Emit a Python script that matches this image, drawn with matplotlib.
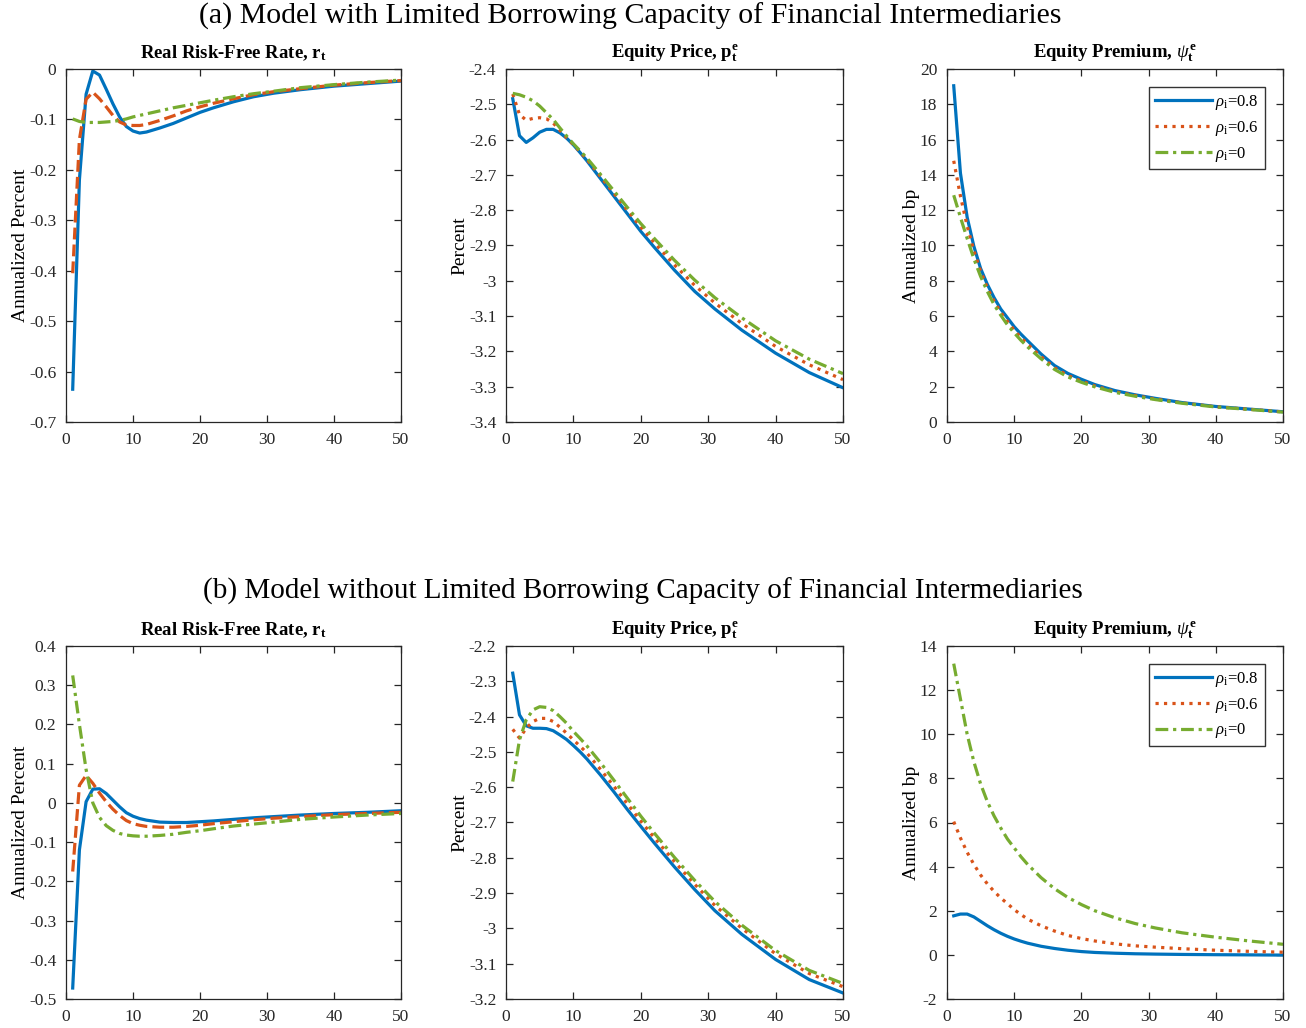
import matplotlib
matplotlib.use('Agg')
import matplotlib.pyplot as plt

plt.rcParams['font.family'] = ['Liberation Serif', 'DejaVu Serif']
plt.rcParams['mathtext.fontset'] = 'custom'
plt.rcParams['mathtext.rm'] = 'Liberation Serif'
plt.rcParams['mathtext.it'] = 'Liberation Serif:italic'
plt.rcParams['mathtext.bf'] = 'Liberation Serif:bold'

# horizon (quarters) where values were read
t = [1, 2, 3, 4, 5, 6, 7, 8, 9, 10, 11, 12, 14, 16, 18, 20, 22, 25, 28, 31, 35, 40, 45, 50]

labels = [r'$\rho_\mathrm{i}$=0.8', r'$\rho_\mathrm{i}$=0.6', r'$\rho_\mathrm{i}$=0']

# (a) with limited borrowing capacity
a_rate_08 = [-0.635, -0.22, -0.05, -0.004, -0.012, -0.04, -0.069, -0.095, -0.114, -0.123, -0.127, -0.125,
             -0.117, -0.108, -0.097, -0.086, -0.077, -0.065, -0.055, -0.048, -0.041, -0.034, -0.029, -0.024]
a_rate_06 = [-0.405, -0.14, -0.06, -0.046, -0.059, -0.075, -0.092, -0.105, -0.111, -0.112, -0.112, -0.11,
             -0.102, -0.093, -0.083, -0.075, -0.068, -0.059, -0.051, -0.045, -0.039, -0.032, -0.027, -0.023]
a_rate_0 = [-0.099, -0.104, -0.106, -0.106, -0.106, -0.105, -0.104, -0.102, -0.099, -0.095, -0.092, -0.089,
            -0.083, -0.077, -0.072, -0.067, -0.062, -0.055, -0.049, -0.044, -0.037, -0.031, -0.026, -0.022]

a_price_08 = [-2.484, -2.589, -2.608, -2.595, -2.579, -2.571, -2.571, -2.581, -2.596, -2.615, -2.637, -2.66,
              -2.71, -2.76, -2.81, -2.86, -2.905, -2.97, -3.03, -3.08, -3.14, -3.205, -3.26, -3.303]
a_price_06 = [-2.471, -2.529, -2.545, -2.54, -2.538, -2.541, -2.553, -2.574, -2.595, -2.614, -2.635, -2.656,
              -2.704, -2.752, -2.8, -2.848, -2.892, -2.955, -3.013, -3.063, -3.121, -3.186, -3.238, -3.28]
a_price_0 = [-2.469, -2.473, -2.48, -2.49, -2.505, -2.524, -2.543, -2.567, -2.59, -2.612, -2.632, -2.652,
             -2.698, -2.745, -2.792, -2.838, -2.88, -2.942, -2.998, -3.048, -3.105, -3.17, -3.222, -3.263]

a_prem_08 = [19.05, 14.1, 11.6, 9.95, 8.7, 7.8, 7.05, 6.4, 5.9, 5.4, 4.98, 4.6,
             3.85, 3.2, 2.75, 2.42, 2.12, 1.78, 1.54, 1.34, 1.1, 0.88, 0.73, 0.58]
a_prem_06 = [14.8, 12.8, 11.1, 9.7, 8.55, 7.6, 6.85, 6.2, 5.7, 5.2, 4.78, 4.4,
             3.7, 3.07, 2.63, 2.32, 2.04, 1.72, 1.5, 1.3, 1.08, 0.86, 0.72, 0.57]
a_prem_0 = [12.85, 11.6, 10.4, 9.25, 8.25, 7.4, 6.65, 6.05, 5.5, 5.05, 4.63, 4.25,
            3.58, 2.98, 2.55, 2.25, 1.99, 1.68, 1.46, 1.27, 1.06, 0.85, 0.71, 0.56]

# (b) without limited borrowing capacity
b_rate_08 = [-0.472, -0.12, 0.003, 0.035, 0.036, 0.024, 0.007, -0.01, -0.025, -0.034, -0.04, -0.044,
             -0.049, -0.05, -0.05, -0.048, -0.046, -0.042, -0.038, -0.035, -0.031, -0.027, -0.024, -0.02]
b_rate_06 = [-0.175, 0.045, 0.07, 0.05, 0.025, 0.003, -0.016, -0.032, -0.045, -0.053, -0.057, -0.06,
             -0.062, -0.062, -0.06, -0.057, -0.053, -0.048, -0.043, -0.039, -0.035, -0.03, -0.027, -0.024]
b_rate_0 = [0.325, 0.2, 0.085, 0.0, -0.037, -0.058, -0.07, -0.078, -0.082, -0.084, -0.085, -0.085,
            -0.083, -0.08, -0.075, -0.071, -0.066, -0.059, -0.054, -0.049, -0.042, -0.036, -0.031, -0.027]

b_price_08 = [-2.277, -2.395, -2.426, -2.433, -2.433, -2.434, -2.44, -2.452, -2.465, -2.482, -2.5, -2.52,
              -2.565, -2.613, -2.663, -2.711, -2.758, -2.826, -2.89, -2.95, -3.017, -3.088, -3.145, -3.183]
b_price_06 = [-2.436, -2.461, -2.433, -2.414, -2.405, -2.405, -2.414, -2.43, -2.447, -2.466, -2.484, -2.503,
              -2.549, -2.597, -2.647, -2.696, -2.743, -2.811, -2.875, -2.935, -3.0, -3.072, -3.128, -3.165]
b_price_0 = [-2.584, -2.466, -2.409, -2.381, -2.372, -2.374, -2.383, -2.4, -2.419, -2.442, -2.462, -2.483,
             -2.53, -2.58, -2.631, -2.682, -2.73, -2.799, -2.864, -2.924, -2.991, -3.063, -3.119, -3.156]

b_prem_08 = [1.77, 1.85, 1.85, 1.72, 1.52, 1.32, 1.14, 0.98, 0.84, 0.72, 0.62, 0.53,
             0.39, 0.29, 0.21, 0.15, 0.11, 0.075, 0.05, 0.035, 0.02, 0.008, 0.0, -0.01]
b_prem_06 = [6.04, 5.3, 4.65, 4.1, 3.62, 3.22, 2.88, 2.58, 2.32, 2.05, 1.83, 1.62,
             1.32, 1.08, 0.88, 0.74, 0.63, 0.5, 0.41, 0.35, 0.28, 0.21, 0.16, 0.12]
b_prem_0 = [13.2, 11.6, 10.0, 8.75, 7.75, 6.95, 6.3, 5.75, 5.25, 4.85, 4.45, 4.1,
            3.5, 3.0, 2.6, 2.28, 2.0, 1.68, 1.42, 1.22, 1.0, 0.8, 0.63, 0.48]

# matlab default colours
c_blue = '#0072BD'
c_red = '#D95319'
c_green = '#77AC30'
ink = '#262626'
lw = 2.3
dashdot = (0, (4.0, 1.5, 1.0, 1.5))

fig = plt.figure(figsize=(13.06, 10.28), dpi=100)

lefts = [66, 506, 947]
widths = [335, 337, 336]
tops = [69, 646]
H = 353


def make_ax(col, row):
    l = lefts[col] / 1306
    b = 1 - (tops[row] + H) / 1028
    ax = fig.add_axes([l, b, widths[col] / 1306, H / 1028])
    ax.set_xlim(0, 50)
    ax.set_xticks([0, 10, 20, 30, 40, 50])
    ax.tick_params(direction='in', top=True, right=True, length=5, width=0.9,
                   colors=ink, labelsize=12.5, pad=7)
    for s in ax.spines.values():
        s.set_color(ink)
        s.set_linewidth(0.9)
    return ax


def fmt(v):
    s = ('%.1f' % v) if abs(v - round(v)) > 1e-9 else '%d' % round(v)
    return s


def set_yt(ax, ticks):
    ax.set_ylim(ticks[0], ticks[-1])
    ax.set_yticks(ticks)
    ax.set_yticklabels([fmt(v) for v in ticks])


titles = [r'Real Risk-Free Rate, $\mathbf{r_t}$',
          r'Equity Price, $\mathbf{p_t^e}$',
          r'Equity Premium, $\psi_\mathbf{t}^\mathbf{e}$']
ylabels = ['Annualized Percent', 'Percent', 'Annualized bp']

panels = [
    [(a_rate_08, a_rate_06, a_rate_0), (a_price_08, a_price_06, a_price_0), (a_prem_08, a_prem_06, a_prem_0)],
    [(b_rate_08, b_rate_06, b_rate_0), (b_price_08, b_price_06, b_price_0), (b_prem_08, b_prem_06, b_prem_0)],
]
yticks = [
    [[-0.7, -0.6, -0.5, -0.4, -0.3, -0.2, -0.1, 0],
     [-3.4, -3.3, -3.2, -3.1, -3.0, -2.9, -2.8, -2.7, -2.6, -2.5, -2.4],
     [0, 2, 4, 6, 8, 10, 12, 14, 16, 18, 20]],
    [[-0.5, -0.4, -0.3, -0.2, -0.1, 0, 0.1, 0.2, 0.3, 0.4],
     [-3.2, -3.1, -3.0, -2.9, -2.8, -2.7, -2.6, -2.5, -2.4, -2.3, -2.2],
     [-2, 0, 2, 4, 6, 8, 10, 12, 14]],
]

for row in range(2):
    for col in range(3):
        ax = make_ax(col, row)
        s08, s06, s0 = panels[row][col]
        red_style = '--' if col == 0 else ':'
        ax.plot(t, s08, color=c_blue, lw=lw, ls='-', label=labels[0])
        ax.plot(t, s06, color=c_red, lw=lw, ls=red_style, label=labels[1])
        ax.plot(t, s0, color=c_green, lw=lw, ls=dashdot, label=labels[2])
        set_yt(ax, yticks[row][col])
        ax.set_title(titles[col], fontsize=13.5, fontweight='bold', pad=8)
        ax.set_ylabel(ylabels[col], fontsize=14, labelpad=0)
        if col == 2:
            leg = ax.legend(loc='upper right', fontsize=12, frameon=True, fancybox=False,
                            edgecolor='black', handlelength=3.4, borderaxespad=1.1,
                            labelspacing=0.4, handletextpad=0.2, borderpad=0.35)
            leg.get_frame().set_linewidth(1.0)

fig.text(630 / 1306, 1 - 16 / 1028, '(a) Model with Limited Borrowing Capacity of Financial Intermediaries',
         ha='center', va='center', fontsize=21.5)
fig.text(643 / 1306, 1 - 591 / 1028, '(b) Model without Limited Borrowing Capacity of Financial Intermediaries',
         ha='center', va='center', fontsize=21)

fig.savefig('out.png', dpi=100)
